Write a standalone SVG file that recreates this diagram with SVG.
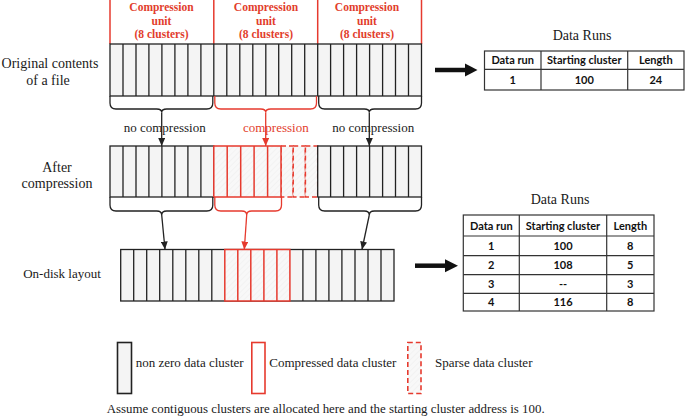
<svg xmlns="http://www.w3.org/2000/svg" width="685" height="418" viewBox="0 0 685 418">
<style>
.serif{font-family:"Liberation Serif","Times New Roman",serif;}
.lbl{font-family:"Liberation Serif","Times New Roman",serif;font-size:14px;fill:#1a1a1a;}
.cu{font-family:"Liberation Serif","Times New Roman",serif;font-size:11.5px;font-weight:bold;fill:#e23d2c;text-anchor:middle;}
.nc{font-family:"Liberation Serif","Times New Roman",serif;font-size:13px;fill:#1a1a1a;text-anchor:middle;}
.rc{font-family:"Liberation Serif","Times New Roman",serif;font-size:13px;fill:#e23d2c;text-anchor:middle;}
.blk{fill:#f4f4f4;stroke:#222;stroke-width:1.3;}
.div{fill:none;stroke:#222;stroke-width:1.3;}
.red{fill:url(#hatch);stroke:#e63a2e;stroke-width:1.5;}
.reddiv{fill:none;stroke:#e63a2e;stroke-width:1.5;}
.sparse{fill:url(#hatch);stroke:#e63a2e;stroke-width:1.5;stroke-dasharray:5 3;}
.brace{fill:none;stroke:#222;stroke-width:1.3;}
.brace-r{fill:none;stroke:#e63a2e;stroke-width:1.3;}
.stem{fill:none;stroke:#222;stroke-width:1.3;marker-end:url(#ah);}
.stem-r{fill:none;stroke:#e63a2e;stroke-width:1.3;marker-end:url(#ahr);}
.unitline{stroke:#e63a2e;stroke-width:1.5;}
.tbl{fill:#fff;stroke:#333;stroke-width:1.2;}
.tline{stroke:#333;stroke-width:1.2;}
.tt{font-family:Lato,"Liberation Sans",sans-serif;font-size:11px;font-weight:bold;fill:#111;text-anchor:middle;}
.title{font-family:"Liberation Serif","Times New Roman",serif;font-size:14px;fill:#1a1a1a;text-anchor:middle;}
.leg{font-family:"Liberation Serif","Times New Roman",serif;font-size:13px;fill:#1a1a1a;}
</style>
<defs>
<pattern id="hatch" patternUnits="userSpaceOnUse" width="4" height="4" patternTransform="rotate(45)">
<rect width="4" height="4" fill="#f8f8f8"/>
<line x1="0" y1="0" x2="0" y2="4" stroke="#e8e8e8" stroke-width="0.8"/>
</pattern>
<marker id="ah" markerUnits="userSpaceOnUse" markerWidth="8" markerHeight="7" refX="8" refY="3.5" orient="auto">
<path d="M0,0 L8,3.5 L0,7 z" fill="#222"/>
</marker>
<marker id="ahr" markerUnits="userSpaceOnUse" markerWidth="8" markerHeight="7" refX="8" refY="3.5" orient="auto">
<path d="M0,0 L8,3.5 L0,7 z" fill="#e63a2e"/>
</marker>
</defs>
<rect width="685" height="418" fill="#ffffff"/>

<g id="units">
<line class="unitline" x1="110" y1="0" x2="110" y2="44"/>
<line class="unitline" x1="213.8" y1="0" x2="213.8" y2="44"/>
<line class="unitline" x1="317.7" y1="0" x2="317.7" y2="44"/>
<line class="unitline" x1="421.5" y1="0" x2="421.5" y2="44"/>
<text class="cu" x="161.5" y="11">Compression</text>
<text class="cu" x="161.5" y="25">unit</text>
<text class="cu" x="161.5" y="38">(8 clusters)</text>
<text class="cu" x="266" y="11">Compression</text>
<text class="cu" x="266" y="25">unit</text>
<text class="cu" x="266" y="38">(8 clusters)</text>
<text class="cu" x="367" y="11">Compression</text>
<text class="cu" x="367" y="25">unit</text>
<text class="cu" x="367" y="38">(8 clusters)</text>
</g>

<g id="label-original">
<text class="lbl" x="50" y="68" text-anchor="middle">Original contents</text>
<text class="lbl" x="48" y="85" text-anchor="middle">of a file</text>
</g>
<g id="label-after">
<text class="lbl" x="57" y="171.5" text-anchor="middle">After</text>
<text class="lbl" x="57" y="188" text-anchor="middle">compression</text>
</g>
<g id="label-ondisk">
<text class="serif" x="62" y="277.5" font-size="13" fill="#1a1a1a" text-anchor="middle">On-disk layout</text>
</g>

<g id="strip-original">
<rect class="blk" x="110" y="44" width="311.5" height="52"/>
<path class="div" d="M123,44V96M136,44V96M148.9,44V96M161.9,44V96M174.9,44V96M187.9,44V96M200.9,44V96M213.8,44V96M226.8,44V96M239.8,44V96M252.8,44V96M265.8,44V96M278.7,44V96M291.7,44V96M304.7,44V96M317.7,44V96M330.6,44V96M343.6,44V96M356.6,44V96M369.6,44V96M382.6,44V96M395.5,44V96M408.5,44V96"/>
</g>

<g id="strip-compressed">
<rect class="blk" x="110" y="146" width="103.8" height="51"/>
<path class="div" d="M123,146V197M136,146V197M148.9,146V197M161.9,146V197M174.9,146V197M187.9,146V197M200.9,146V197"/>
<rect class="sparse" x="281" y="146" width="12.2" height="51"/>
<rect class="sparse" x="293.2" y="146" width="12.2" height="51"/>
<rect class="sparse" x="305.4" y="146" width="12.3" height="51"/>
<rect class="blk" x="317.7" y="146" width="103.8" height="51"/>
<path class="div" d="M330.6,146V197M343.6,146V197M356.6,146V197M369.6,146V197M382.6,146V197M395.5,146V197M408.5,146V197"/>
<rect class="red" x="213.8" y="146" width="67.2" height="51"/>
<path class="reddiv" d="M227.2,146V197M240.7,146V197M254.1,146V197M267.6,146V197"/>
</g>

<g id="strip-ondisk">
<rect class="blk" x="120.7" y="249.5" width="273.3" height="51.5"/>
<path class="div" d="M133.7,249.5V301M146.7,249.5V301M159.7,249.5V301M172.8,249.5V301M185.8,249.5V301M198.8,249.5V301M211.8,249.5V301M302.9,249.5V301M315.9,249.5V301M328.9,249.5V301M341.9,249.5V301M355,249.5V301M368,249.5V301M381,249.5V301"/>
<rect class="red" x="224.8" y="249.5" width="65.1" height="51.5"/>
<path class="reddiv" d="M237.8,249.5V301M250.8,249.5V301M263.9,249.5V301M276.9,249.5V301"/>
</g>

<g id="connector-labels">
<text class="nc" x="164.7" y="132">no compression</text>
<text class="rc" x="275.8" y="132">compression</text>
<text class="nc" x="373.2" y="132">no compression</text>
</g>

<g id="connectors">
<path class="brace" d="M110,96V103Q110,109 116,109H156.7Q161.7,109 161.7,112.5Q161.7,109 166.7,109H206.8Q212.8,109 212.8,103V96"/>
<path class="brace-r" d="M214.8,96V103Q214.8,109 220.8,109H260.7Q265.7,109 265.7,112.5Q265.7,109 270.7,109H310.5Q316.5,109 316.5,103V96"/>
<path class="brace" d="M318.7,96V103Q318.7,109 324.7,109H364.3Q369.3,109 369.3,112.5Q369.3,109 374.3,109H415.5Q421.5,109 421.5,103V96"/>
<line class="stem" x1="161.7" y1="112.5" x2="161.7" y2="146"/>
<line class="stem-r" x1="265.7" y1="112.5" x2="265.7" y2="146"/>
<line class="stem" x1="369.3" y1="112.5" x2="369.3" y2="146"/>

<path class="brace" d="M110,197V205Q110,211 116,211H156.7Q161.7,211 161.7,215Q161.7,211 166.7,211H206.8Q212.8,211 212.8,205V197"/>
<path class="brace-r" d="M214.8,197V205Q214.8,211 220.8,211H241.7Q246.7,211 246.7,215Q246.7,211 251.7,211H275.5Q281.5,211 281.5,205V197"/>
<path class="brace" d="M318.7,197V205Q318.7,211 324.7,211H364.3Q369.3,211 369.3,215Q369.3,211 374.3,211H415.5Q421.5,211 421.5,205V197"/>
<line class="stem" x1="161.7" y1="215" x2="165" y2="249.5"/>
<line class="stem-r" x1="246.7" y1="215" x2="244.3" y2="249.5"/>
<line class="stem" x1="369.3" y1="215" x2="362" y2="249.5"/>

<line x1="435" y1="70" x2="467" y2="70" stroke="#111" stroke-width="4.5"/>
<polygon points="465,63.5 477.5,70 465,76.5" fill="#111"/>
<line x1="415" y1="265.7" x2="447" y2="265.7" stroke="#111" stroke-width="4.5"/>
<polygon points="445,259.2 458,265.7 445,272.2" fill="#111"/>
</g>

<g id="table-1">
<text class="title" x="582" y="40">Data Runs</text>
<rect class="tbl" x="484.5" y="51" width="199.5" height="39"/>
<line class="tline" x1="484.5" y1="69.3" x2="684" y2="69.3"/>
<line class="tline" x1="541" y1="51" x2="541" y2="90"/>
<line class="tline" x1="627.7" y1="51" x2="627.7" y2="90"/>
<text class="tt" x="512.7" y="64">Data run</text>
<text class="tt" x="584.3" y="64">Starting cluster</text>
<text class="tt" x="655.8" y="64">Length</text>
<text class="tt" x="512.7" y="83.5">1</text>
<text class="tt" x="584.3" y="83.5">100</text>
<text class="tt" x="655.8" y="83.5">24</text>
</g>

<g id="table-2">
<text class="title" x="560" y="204">Data Runs</text>
<rect class="tbl" x="463.3" y="215" width="190.7" height="96"/>
<line class="tline" x1="463.3" y1="236" x2="654" y2="236"/>
<line class="tline" x1="463.3" y1="255.7" x2="654" y2="255.7"/>
<line class="tline" x1="463.3" y1="274.7" x2="654" y2="274.7"/>
<line class="tline" x1="463.3" y1="293.3" x2="654" y2="293.3"/>
<line class="tline" x1="519.3" y1="215" x2="519.3" y2="311"/>
<line class="tline" x1="606.7" y1="215" x2="606.7" y2="311"/>
<text class="tt" x="491.3" y="229.5">Data run</text>
<text class="tt" x="563" y="229.5">Starting cluster</text>
<text class="tt" x="630.3" y="229.5">Length</text>
<text class="tt" x="491.3" y="249.7">1</text>
<text class="tt" x="563" y="249.7">100</text>
<text class="tt" x="630.3" y="249.7">8</text>
<text class="tt" x="491.3" y="269">2</text>
<text class="tt" x="563" y="269">108</text>
<text class="tt" x="630.3" y="269">5</text>
<text class="tt" x="491.3" y="288">3</text>
<text class="tt" x="563" y="288">--</text>
<text class="tt" x="630.3" y="288">3</text>
<text class="tt" x="491.3" y="306">4</text>
<text class="tt" x="563" y="306">116</text>
<text class="tt" x="630.3" y="306">8</text>
</g>

<g id="legend">
<rect x="117.5" y="342.5" width="14" height="51" fill="#f4f4f4" stroke="#222" stroke-width="1.6"/>
<text class="leg" x="135.7" y="367">non zero data cluster</text>
<rect x="251.8" y="342.5" width="13.2" height="51" fill="#fff" stroke="#e63a2e" stroke-width="1.6"/>
<text class="leg" x="269.3" y="367">Compressed data cluster</text>
<rect x="407.8" y="342.5" width="13.2" height="51" fill="url(#hatch)" stroke="#e63a2e" stroke-width="1.6" stroke-dasharray="5 3"/>
<text class="leg" x="435" y="367">Sparse data cluster</text>
</g>

<g id="footnote">
<text class="leg" x="106.7" y="413" font-size="12.5" textLength="438" lengthAdjust="spacingAndGlyphs">Assume contiguous clusters are allocated here and the starting cluster address is 100.</text>
</g>
</svg>
